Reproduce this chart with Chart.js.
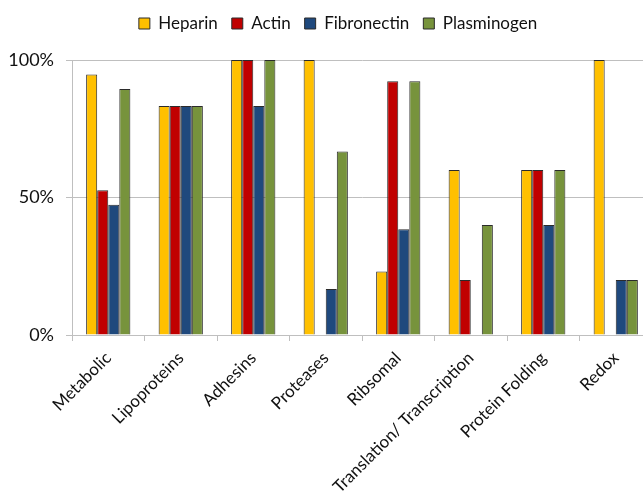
<!DOCTYPE html>
<html>
<head>
<meta charset="utf-8">
<script src="https://cdn.jsdelivr.net/npm/chart.js@4"></script>
<style>
  html, body { margin: 0; padding: 0; background: #fff; overflow: hidden; }
  #wrap { width: 652px; height: 496px; }
</style>
</head>
<body>
<div id="wrap"><canvas id="bindingChart" width="652" height="496"></canvas></div>
<script>
const categories = ['Metabolic', 'Lipoproteins', 'Adhesins', 'Proteases', 'Ribsomal',
    'Translation/ Transcription', 'Protein Folding', 'Redox'];

// доля белков каждой группы, связывающих лиганд (%)
const heparin     = [94.7, 83.3, 100, 100, 23.1, 60, 60, 100];
const actin       = [52.6, 83.3, 100, 0, 92.3, 20, 60, 0];
const fibronectin = [47.4, 83.3, 83.3, 16.7, 38.5, 0, 40, 20];
const plasminogen = [89.5, 83.3, 100, 66.7, 92.3, 40, 60, 20];

const yTicks = [0, 50, 100];

const FONT = 'Lato';
const GRID = '#bfbfbf';

function series(label, data, color) {
    return {
        label: label,
        data: data,
        backgroundColor: color,
        borderColor: '#2b2b2b',
        borderWidth: 1,
        barPercentage: 1,
        categoryPercentage: 0.61
    };
}

// лишний отступ под легендой и небольшой сдвиг вправо
const legendGap = {
    id: 'legendGap',
    beforeInit(chart) {
        const fit = chart.legend.fit;
        chart.legend.fit = function () {
            fit.bind(chart.legend)();
            this.height += 19;
        };
    },
    afterLayout(chart) {
        chart.legend.left += 12;
        chart.legend.right += 12;
        chart.legend.top += 1;
    }
};

new Chart(document.getElementById('bindingChart'), {
    type: 'bar',
    data: {
        labels: categories,
        datasets: [
            series('Heparin', heparin, '#ffc000'),
            series('Actin', actin, '#c00000'),
            series('Fibronectin', fibronectin, '#1f497d'),
            series('Plasminogen', plasminogen, '#77933c')
        ]
    },
    plugins: [legendGap],
    options: {
        responsive: false,
        animation: false,
        layout: { padding: { top: 0, right: 0, left: 0, bottom: 0 } },
        plugins: {
            legend: {
                position: 'top',
                labels: {
                    color: '#111',
                    font: { family: FONT, size: 17 },
                    boxWidth: 11,
                    boxHeight: 11,
                    padding: 14
                }
            },
            tooltip: { enabled: false }
        },
        scales: {
            x: {
                grid: { drawOnChartArea: false, drawTicks: true, tickLength: 6, color: GRID },
                border: { color: GRID },
                ticks: {
                    color: '#111',
                    font: { family: FONT, size: 17 },
                    padding: 7,
                    maxRotation: 45,
                    minRotation: 45,
                    autoSkip: false
                },
                afterFit: function (scale) { scale.height = 161; }
            },
            y: {
                min: 0,
                max: 100,
                afterBuildTicks: function (scale) {
                    scale.ticks = yTicks.map(v => ({ value: v }));
                },
                grid: { color: GRID, tickLength: 6 },
                border: { color: GRID },
                ticks: {
                    color: '#111',
                    font: { family: FONT, size: 18 },
                    padding: 12,
                    callback: v => v + '%'
                },
                afterFit: function (scale) { scale.width = 72; }
            }
        }
    }
});
</script>
</body>
</html>
